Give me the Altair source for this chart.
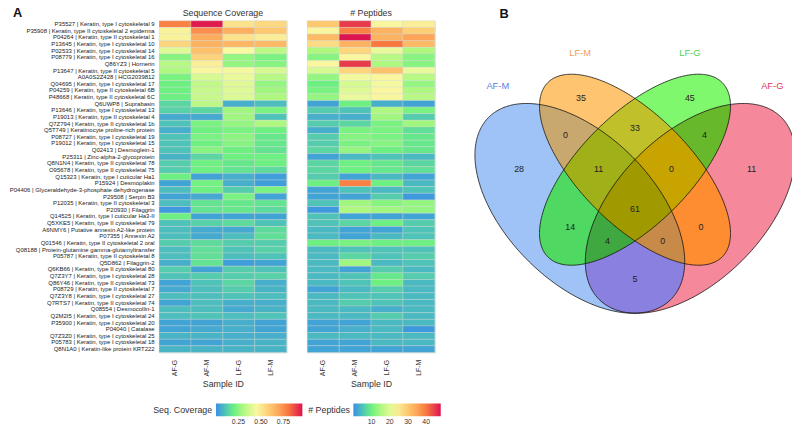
import altair as alt
import numpy as np
import pandas as pd
from itertools import combinations

# ---------------- Heatmap data ----------------
proteins = [
    "P35527 | Keratin, type I cytoskeletal 9",
    "P35908 | Keratin, type II cytoskeletal 2 epiderma",
    "P04264 | Keratin, type II cytoskeletal 1",
    "P13645 | Keratin, type I cytoskeletal 10",
    "P02533 | Keratin, type I cytoskeletal 14",
    "P08779 | Keratin, type I cytoskeletal 16",
    "Q86YZ3 | Hornerin",
    "P13647 | Keratin, type II cytoskeletal 5",
    "A0A0S2Z428 | HCG2039812",
    "Q04695 | Keratin, type I cytoskeletal 17",
    "P04259 | Keratin, type II cytoskeletal 6B",
    "P48668 | Keratin, type II cytoskeletal 6C",
    "Q6UWP8 | Suprabasin",
    "P13646 | Keratin, type I cytoskeletal 13",
    "P19013 | Keratin, type II cytoskeletal 4",
    "Q7Z794 | Keratin, type II cytoskeletal 1b",
    "Q5T749 | Keratinocyte proline-rich protein",
    "P08727 | Keratin, type I cytoskeletal 19",
    "P19012 | Keratin, type I cytoskeletal 15",
    "Q02413 | Desmoglein-1",
    "P25311 | Zinc-alpha-2-glycoprotein",
    "Q8N1N4 | Keratin, type II cytoskeletal 78",
    "O95678 | Keratin, type II cytoskeletal 75",
    "Q15323 | Keratin, type I cuticular Ha1",
    "P15924 | Desmoplakin",
    "P04406 | Glyceraldehyde-3-phosphate dehydrogenase",
    "P29508 | Serpin B3",
    "P12035 | Keratin, type II cytoskeletal 3",
    "P20930 | Filaggrin",
    "Q14525 | Keratin, type I cuticular Ha3-II",
    "Q5XKE5 | Keratin, type II cytoskeletal 79",
    "A6NMY6 | Putative annexin A2-like protein",
    "P07355 | Annexin A2",
    "Q01546 | Keratin, type II cytoskeletal 2 oral",
    "Q08188 | Protein-glutamine gamma-glutamyltransfer",
    "P05787 | Keratin, type II cytoskeletal 8",
    "Q5D862 | Filaggrin-2",
    "Q6KB66 | Keratin, type II cytoskeletal 80",
    "Q7Z3Y7 | Keratin, type I cytoskeletal 28",
    "Q86Y46 | Keratin, type II cytoskeletal 73",
    "P08729 | Keratin, type II cytoskeletal 7",
    "Q7Z3Y8 | Keratin, type I cytoskeletal 27",
    "Q7RTS7 | Keratin, type II cytoskeletal 74",
    "Q08554 | Desmocollin-1",
    "Q2M2I5 | Keratin, type I cytoskeletal 24",
    "P35900 | Keratin, type I cytoskeletal 20",
    "P04040 | Catalase",
    "Q7Z3Z0 | Keratin, type I cytoskeletal 25",
    "P05783 | Keratin, type I cytoskeletal 18",
    "Q8N1A0 | Keratin-like protein KRT222",
]
samples = ["AF-G", "AF-M", "LF-G", "LF-M"]

cov_AFG = [.78, .47, .47, .56, .40, .24, .32, .30, .22, .20, .20, .20, .14, .13, .05, .10, .06, .10, .10, .10,
           .07, .12, .12, .20, .04, .09, .04, .09, .02, .20, .10, .09, .09, .12, .09, .09, .06, .12, .10, .04,
           .05, .09, .04, .09, .09, .04, .04, .07, .04, .07]
cov_AFM = [.95, .75, .68, .66, .62, .57, .48, .46, .38, .34, .35, .35, .33, .14, .05, .22, .20, .22, .20, .24,
           .14, .20, .20, .04, .21, .20, .05, .17, .17, .04, .13, .05, .05, .15, .16, .16, .17, .04, .12, .10,
           .09, .09, .09, .09, .10, .04, .05, .07, .04, .07]
cov_LFG = [.52, .67, .52, .65, .45, .26, .26, .44, .42, .40, .40, .39, .06, .28, .28, .26, .22, .25, .24, .20,
           .20, .18, .17, .06, .06, .12, .22, .18, .18, .04, .15, .05, .09, .12, .10, .09, .03, .12, .12, .14,
           .12, .10, .06, .05, .09, .06, .06, .06, .06, .07]
cov_LFM = [.55, .60, .48, .64, .33, .22, .24, .38, .32, .26, .28, .30, .09, .22, .10, .30, .20, .18, .18, .17,
           .20, .20, .15, .03, .03, .22, .04, .17, .15, .04, .10, .15, .16, .12, .13, .10, .04, .10, .13, .06,
           .07, .09, .06, .07, .10, .04, .04, .06, .07, .07]

pep_AFG = [30, 23, 32, 27, 15, 12, 23, 19, 13, 10, 11, 13, 2, 6, 3, 6, 3, 6, 6, 7,
           2, 7, 7, 6, 10, 2, 2, 5, 1, 5, 5, 4, 4, 10, 4, 4, 4, 4, 4, 4,
           2, 4, 4, 4, 4, 2, 2, 4, 2, 2]
pep_AFM = [45, 39, 48, 33, 28, 23, 45, 28, 22, 19, 20, 21, 10, 5, 3, 7, 11, 12, 11, 13,
           4, 10, 10, 2, 39, 5, 2, 14, 15, 2, 7, 2, 2, 11, 5, 7, 14, 2, 5, 5,
           4, 5, 6, 4, 4, 2, 3, 4, 2, 2]
pep_LFG = [23, 33, 33, 40, 21, 16, 15, 31, 23, 22, 23, 23, 3, 15, 14, 11, 11, 11, 12, 10,
           5, 9, 9, 4, 10, 4, 6, 12, 14, 2, 10, 2, 4, 10, 5, 5, 4, 6, 9, 10,
           6, 5, 5, 3, 6, 4, 4, 4, 4, 2]
pep_LFM = [24, 29, 35, 32, 15, 12, 12, 21, 16, 13, 15, 16, 2, 11, 6, 14, 8, 9, 9, 9,
           4, 7, 8, 2, 4, 5, 1, 13, 13, 2, 6, 5, 5, 10, 5, 6, 5, 4, 6, 4,
           4, 4, 4, 4, 4, 4, 1, 4, 4, 2]

heat_colors = ["#3a8fe8", "#4fc3b8", "#6df081", "#aef880", "#f9f9a2",
               "#fdc870", "#fda458", "#f87840", "#dc1450"]
cov_stops = [0.0, 0.1, 0.2, 0.3, 0.45, 0.6, 0.7, 0.8, 0.96]
pep_stops = [0, 5, 10, 15, 22.5, 30, 35, 40, 48]

# ---------------- Venn data ----------------
venn_sets = ["AF-M", "LF-M", "LF-G", "AF-G"]
set_label_colors = ["#5a80df", "#f0a04c", "#4fcf4f", "#e0365a"]
set_label_x = [0.127, 0.351, 0.649, 0.873]
set_label_y = [0.803, 0.891, 0.891, 0.803]

ell_cx = [0.35, 0.50, 0.50, 0.65]
ell_cy = [0.47, 0.575, 0.575, 0.47]
ell_a = [0.35, 0.335, 0.335, 0.35]
ell_b = [0.20, 0.15, 0.15, 0.20]
ell_rot = [135, 135, 45, 45]

region_keys = ["AF-M", "LF-M", "LF-G", "AF-G",
               "AF-M&LF-M", "AF-M&LF-G", "AF-M&AF-G", "LF-M&LF-G", "LF-M&AF-G", "LF-G&AF-G",
               "AF-M&LF-M&LF-G", "AF-M&LF-M&AF-G", "AF-M&LF-G&AF-G", "LF-M&LF-G&AF-G",
               "AF-M&LF-M&LF-G&AF-G"]
region_colors = ["#9fc3f7", "#fec46f", "#80f86e", "#f5899b",
                 "#c8a86e", "#4fd862", "#8a80e0", "#c0c02a", "#fe8c30", "#68b82c",
                 "#a0b018", "#c88a48", "#40a840", "#c8a400",
                 "#a09a00"]

count_vals = [35, 45, 28, 0, 33, 4, 11, 0, 11, 14, 61, 0, 4, 0, 5]
count_x = [0.353, 0.649, 0.185, 0.311, 0.500, 0.689, 0.401, 0.599, 0.817, 0.324, 0.500, 0.679, 0.425, 0.575, 0.500]
count_y = [0.769, 0.769, 0.577, 0.670, 0.689, 0.668, 0.577, 0.577, 0.577, 0.420, 0.468, 0.420, 0.380, 0.380, 0.278]

FONT = "Liberation Sans"

# ---------------- Build heatmap tables ----------------
cov_cols = dict(zip(samples, [cov_AFG, cov_AFM, cov_LFG, cov_LFM]))
pep_cols = dict(zip(samples, [pep_AFG, pep_AFM, pep_LFG, pep_LFM]))
rows = []
for s in samples:
    for p, c, n in zip(proteins, cov_cols[s], pep_cols[s]):
        rows.append({"protein": p, "sample": s, "cov": c, "pep": n})
heat_df = pd.DataFrame(rows)

HW, HH = 130, 338


def text_at(txt, x, y, size, weight="normal", align="center", baseline="alphabetic", color="#333333"):
    return alt.Chart(pd.DataFrame({"t": [txt]})).mark_text(
        fontSize=size, fontWeight=weight, align=align, baseline=baseline, font=FONT, color=color
    ).encode(text="t:N", x=alt.value(x), y=alt.value(y))


def heat_panel(field, title, scale, legend, show_labels, extra=None):
    yaxis = alt.Axis(title=None, ticks=False, domain=False, labelFontSize=6.1, labelPadding=5,
                     labelLimit=0, labelColor="#222222", labelFont=FONT) if show_labels else None
    rect = alt.Chart(heat_df).mark_rect(stroke="#cfd8d0", strokeWidth=0.35).encode(
        x=alt.X("sample:N", sort=samples, scale=alt.Scale(paddingInner=0, paddingOuter=0),
                axis=alt.Axis(title="Sample ID", labelAngle=270, ticks=False, domain=False,
                              labelFontSize=7, labelPadding=7, labelColor="#333333",
                              titleFontSize=9, titleFontWeight="normal", titleColor="#333333",
                              titlePadding=4, labelFont=FONT, titleFont=FONT)),
        y=alt.Y("protein:N", sort=proteins, scale=alt.Scale(paddingInner=0, paddingOuter=0), axis=yaxis),
        color=alt.Color(field + ":Q", scale=scale, legend=legend),
    )
    layers = [rect, text_at(title, HW / 2, -5, 9)]
    if extra is not None:
        layers.append(extra)
    return alt.layer(*layers).properties(
        width=HW, height=HH,
        view=alt.ViewBackground(stroke="#dddddd", strokeWidth=1),
    )


cov_scale = alt.Scale(domain=cov_stops, range=heat_colors, interpolate="rgb")
pep_scale = alt.Scale(domain=pep_stops, range=heat_colors, interpolate="rgb")

LEG_Y = 390
cov_legend = alt.Legend(title="Seq. Coverage", orient="none", legendX=-6, legendY=LEG_Y,
                        direction="horizontal", titleOrient="left", gradientLength=88,
                        gradientThickness=13, values=[0.25, 0.5, 0.75], format=".2f",
                        labelFontSize=7, labelColor="#333333", titleFontSize=9,
                        titleFontWeight="normal", titleColor="#333333", titlePadding=3,
                        gradientStrokeWidth=0, labelFont=FONT, titleFont=FONT)
pep_legend = alt.Legend(title="# Peptides", orient="none", legendX=1, legendY=LEG_Y,
                        direction="horizontal", titleOrient="left", gradientLength=89,
                        gradientThickness=13, values=[10, 20, 30, 40],
                        labelFontSize=7, labelColor="#333333", titleFontSize=9,
                        titleFontWeight="normal", titleColor="#333333", titlePadding=3,
                        gradientStrokeWidth=0, labelFont=FONT, titleFont=FONT)

heat1 = heat_panel("cov", "Sequence Coverage", cov_scale, cov_legend, True,
                   text_at("A", -149, -4, 13, weight="bold", align="left", color="#111111"))
heat2 = heat_panel("pep", "# Peptides", pep_scale, pep_legend, False)

# ---------------- Venn geometry ----------------
def ellipse_interval(i, xs):
    th = np.radians(ell_rot[i])
    c, s = np.cos(th), np.sin(th)
    a2, b2 = ell_a[i] ** 2, ell_b[i] ** 2
    dx = xs - ell_cx[i]
    A = s * s / a2 + c * c / b2
    B = 2 * dx * c * s * (1 / a2 - 1 / b2)
    C = dx * dx * (c * c / a2 + s * s / b2) - 1
    disc = B * B - 4 * A * C
    ok = disc >= 0
    sq = np.sqrt(np.where(ok, disc, 0))
    lo = ell_cy[i] + (-B - sq) / (2 * A)
    hi = ell_cy[i] + (-B + sq) / (2 * A)
    return lo, hi, ok


xs = np.linspace(0.05, 0.95, 721)
ints = [ellipse_interval(i, xs) for i in range(4)]
reg_rows = []
for k in range(1, 5):
    for combo in combinations(range(4), k):
        key = "&".join(venn_sets[i] for i in combo)
        col = region_colors[region_keys.index(key)]
        lo = np.max([ints[i][0] for i in combo], axis=0)
        hi = np.min([ints[i][1] for i in combo], axis=0)
        ok = np.all([ints[i][2] for i in combo], axis=0) & (hi > lo)
        for xv, l, h in zip(xs[ok], lo[ok], hi[ok]):
            reg_rows.append({"region": key, "level": k, "col": col,
                             "x": round(float(xv), 5), "lo": round(float(l), 5), "hi": round(float(h), 5)})
reg_df = pd.DataFrame(reg_rows)

out_rows = []
ts = np.linspace(0, 2 * np.pi, 361)
for i, name in enumerate(venn_sets):
    th = np.radians(ell_rot[i])
    px = ell_cx[i] + ell_a[i] * np.cos(ts) * np.cos(th) - ell_b[i] * np.sin(ts) * np.sin(th)
    py = ell_cy[i] + ell_a[i] * np.cos(ts) * np.sin(th) + ell_b[i] * np.sin(ts) * np.cos(th)
    for j, (u, v) in enumerate(zip(px, py)):
        out_rows.append({"set": name, "i": j, "x": round(float(u), 5), "y": round(float(v), 5)})
out_df = pd.DataFrame(out_rows)

PX_PER_UNIT = 375.0
VENN_LEFT = 440.0   # page-x reference used to place the venn content
VENN_TOP = 14.0     # page-y reference used to place the venn content
VW, VH = 354, 338
u0 = 0.5 - (634 - VENN_LEFT) / PX_PER_UNIT
u1 = u0 + VW / PX_PER_UNIT
v1 = (381.4 - VENN_TOP) / PX_PER_UNIT
v0 = v1 - VH / PX_PER_UNIT
xsc = alt.Scale(domain=[u0, u1], nice=False, zero=False)
ysc = alt.Scale(domain=[v0, v1], nice=False, zero=False)

venn_layers = []
for k in range(1, 5):
    venn_layers.append(
        alt.Chart(reg_df[reg_df.level == k]).mark_area(clip=True, interpolate="linear").encode(
            x=alt.X("x:Q", scale=xsc, axis=None),
            y=alt.Y("hi:Q", scale=ysc, axis=None, stack=None),
            y2="lo:Q",
            color=alt.Color("col:N", scale=None),
            detail="region:N",
        )
    )
venn_layers.append(
    alt.Chart(out_df).mark_line(clip=True, color="#111111", strokeWidth=0.8).encode(
        x=alt.X("x:Q", scale=xsc, axis=None),
        y=alt.Y("y:Q", scale=ysc, axis=None),
        detail="set:N",
        order="i:Q",
    )
)
count_df = pd.DataFrame({"x": count_x, "y": count_y, "t": [str(v) for v in count_vals]})
venn_layers.append(
    alt.Chart(count_df).mark_text(fontSize=9, color="#222222", font=FONT).encode(
        x=alt.X("x:Q", scale=xsc, axis=None), y=alt.Y("y:Q", scale=ysc, axis=None), text="t:N"
    )
)
set_df = pd.DataFrame({"x": set_label_x, "y": set_label_y, "t": venn_sets, "c": set_label_colors})
venn_layers.append(
    alt.Chart(set_df).mark_text(fontSize=9.5, font=FONT).encode(
        x=alt.X("x:Q", scale=xsc, axis=None), y=alt.Y("y:Q", scale=ysc, axis=None), text="t:N",
        color=alt.Color("c:N", scale=None)
    )
)
venn_layers.append(text_at("B", 496 - VENN_LEFT, -3, 13, weight="bold", align="left", color="#111111"))
venn = alt.layer(*venn_layers).properties(width=VW, height=VH, view=alt.ViewBackground(stroke=None))

chart = alt.hconcat(heat1, heat2, venn, spacing=3).resolve_scale(color="independent").properties(
    padding={"left": 0, "top": -6, "right": 0, "bottom": 0}
).configure(font=FONT)

chart.save("out.html", embed_options={"renderer": "svg", "actions": False})
